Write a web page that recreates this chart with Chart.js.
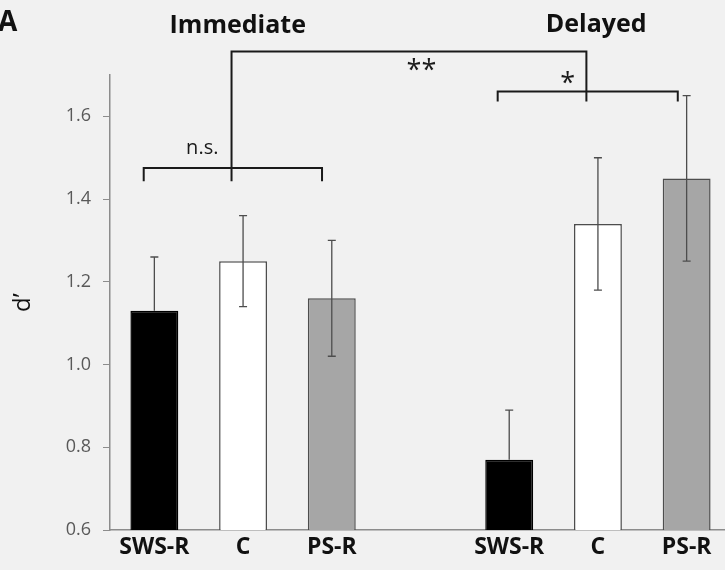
<!DOCTYPE html>
<html>
<head>
<meta charset="utf-8">
<script src="https://cdn.jsdelivr.net/npm/chart.js@4"></script>
<style>
  html, body { margin: 0; padding: 0; background: #f1f1f1; overflow: hidden; }
  .wrap { width: 725px; height: 570px; overflow: hidden; }
</style>
</head>
<body>
<div class="wrap"><canvas id="c" width="731" height="570"></canvas></div>
<script>
// d' means and error bars
const conditions = ["SWS-R", "C", "PS-R"]
const immediateMeans = [1.13, 1.25, 1.16]
const immediateErr = [0.13, 0.11, 0.14]
const delayedMeans = [0.77, 1.34, 1.45]
const delayedErr = [0.12, 0.16, 0.20]
const barColors = ["#000000", "#ffffff", "#a6a6a6"]
const yTicks = [0.6, 0.8, 1.0, 1.2, 1.4, 1.6]

// one empty slot between the two groups
const labels = [...conditions, "", ...conditions]
const means = [...immediateMeans, null, ...delayedMeans]
const errs = [...immediateErr, null, ...delayedErr]
const colors = [...barColors, "#fff", ...barColors]

const FONT = "'Open Sans', 'DejaVu Sans', sans-serif"
Chart.defaults.font.family = FONT

const overlay = {
  id: "overlay",
  afterDatasetsDraw(chart) {
    const ctx = chart.ctx
    const ys = chart.scales.y
    const meta = chart.getDatasetMeta(0)
    ctx.save()
    ctx.strokeStyle = "#4d4d4d"
    ctx.lineWidth = 1.3
    means.forEach((m, i) => {
      if (m === null) return
      const x = meta.data[i].x
      const top = ys.getPixelForValue(m + errs[i])
      const bot = ys.getPixelForValue(m - errs[i])
      const mid = ys.getPixelForValue(m)
      ctx.beginPath()
      ctx.moveTo(x, top); ctx.lineTo(x, mid)
      ctx.moveTo(x - 4, top); ctx.lineTo(x + 4, top)
      // lower whisker disappears inside the black bars
      if (colors[i] !== "#000000") {
        ctx.moveTo(x, mid); ctx.lineTo(x, bot)
        ctx.moveTo(x - 4, bot); ctx.lineTo(x + 4, bot)
      }
      ctx.stroke()
    })
    ctx.restore()
  },
  afterDraw(chart) {
    const ctx = chart.ctx
    const xs = chart.scales.x
    const ys = chart.scales.y
    const px = v => xs.getPixelForValue(v)
    const py = v => ys.getPixelForValue(v)
    ctx.save()
    ctx.strokeStyle = "#1a1a1a"
    ctx.lineWidth = 2
    ctx.lineCap = "butt"
    // n.s. bracket over immediate
    ctx.beginPath()
    ctx.moveTo(px(-0.12), py(1.443)); ctx.lineTo(px(-0.12), py(1.475))
    ctx.lineTo(px(1.89), py(1.475)); ctx.lineTo(px(1.89), py(1.443))
    // link between groups
    ctx.moveTo(px(0.87), py(1.443)); ctx.lineTo(px(0.87), py(1.757))
    ctx.lineTo(px(4.87), py(1.757)); ctx.lineTo(px(4.87), py(1.636))
    // * bracket over delayed
    ctx.moveTo(px(3.87), py(1.636)); ctx.lineTo(px(3.87), py(1.660))
    ctx.lineTo(px(5.90), py(1.660)); ctx.lineTo(px(5.90), py(1.636))
    ctx.stroke()

    ctx.fillStyle = "#1a1a1a"
    ctx.textAlign = "center"
    ctx.textBaseline = "middle"
    ctx.font = "20px " + FONT
    ctx.fillText("n.s.", px(0.54), py(1.523))
    ctx.font = "27px " + FONT
    ctx.fillText("**", px(3.01), py(1.708))
    ctx.fillText("*", px(4.66), py(1.678))

    // group titles
    ctx.fillStyle = "#111"
    ctx.font = "bold 25px " + FONT
    ctx.fillText("Immediate", px(0.94), 26)
    ctx.fillText("Delayed", px(4.98), 25)

    // panel letter
    ctx.textAlign = "left"
    ctx.font = "bold 28px " + FONT
    ctx.fillText("A", -2, 23)

    // y title
    ctx.translate(23, (ys.top + ys.bottom) / 2)
    ctx.rotate(-Math.PI / 2)
    ctx.textAlign = "center"
    ctx.font = "24px " + FONT
    ctx.fillText("d\u2019", 0, 0)
    ctx.restore()
  }
}

new Chart(document.getElementById("c"), {
  type: "bar",
  data: {
    labels: labels,
    datasets: [{
      data: means,
      backgroundColor: colors,
      borderColor: colors.map(c => c === "#000000" ? "#000" : "#4d4d4d"),
      borderWidth: 1.5,
      borderSkipped: "bottom",
      barPercentage: 0.54,
      categoryPercentage: 1
    }]
  },
  options: {
    responsive: false,
    animation: false,
    layout: { padding: { top: 75, left: 0, right: 0, bottom: 0 } },
    plugins: { legend: { display: false }, tooltip: { enabled: false } },
    scales: {
      x: {
        offset: true,
        grid: { display: true, drawOnChartArea: false, drawTicks: false },
        border: { display: true, color: "#8c8c8c", width: 1.5 },
        ticks: { color: "#111", font: { size: 23, weight: "bold" }, padding: 4 },
        afterFit: s => { s.height = 40 }
      },
      y: {
        min: 0.6,
        max: 1.7,
        grid: { display: true, drawOnChartArea: false, drawTicks: true, tickLength: 7, color: "#8c8c8c" },
        border: { display: true, color: "#8c8c8c", width: 1.5 },
        ticks: { color: "#595959", font: { size: 18 }, padding: 12, callback: v => Number(v).toFixed(1) },
        afterBuildTicks: s => { s.ticks = yTicks.map(v => ({ value: v })) },
        afterFit: s => { s.width = 110 }
      }
    }
  },
  plugins: [overlay]
})
</script>
</body>
</html>
